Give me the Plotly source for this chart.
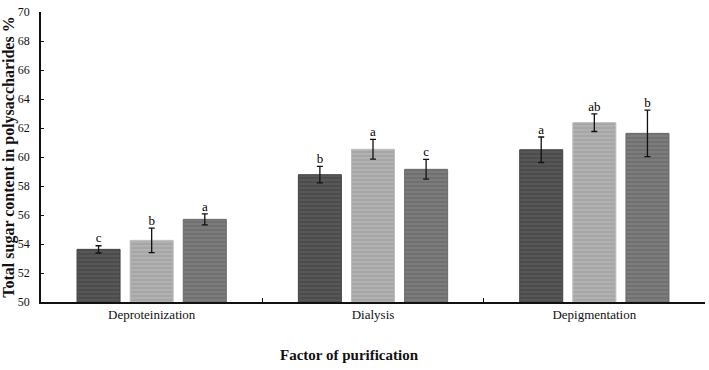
import plotly.graph_objects as go

categories = ["Deproteinization", "Dialysis", "Depigmentation"]
series_names = ["Treatment 1", "Treatment 2", "Treatment 3"]
values_1 = [53.63, 58.78, 60.50]
values_2 = [54.25, 60.53, 62.37]
values_3 = [55.70, 59.15, 61.63]
errors_1 = [0.25, 0.57, 0.88]
errors_2 = [0.85, 0.68, 0.61]
errors_3 = [0.38, 0.68, 1.60]
letters_1 = ["c", "b", "a"]
letters_2 = ["b", "a", "ab"]
letters_3 = ["a", "c", "b"]
y_ticks = [50, 52, 54, 56, 58, 60, 62, 64, 66, 68, 70]

all_values = [values_1, values_2, values_3]
all_errors = [errors_1, errors_2, errors_3]
all_letters = [letters_1, letters_2, letters_3]
fills = ["#575757", "#a6a6a6", "#7c7c7c"]
stripes = ["#4a4a4a", "#b2b2b2", "#6f6f6f"]
borders = ["#444444", "#bdbdbd", "#6a6a6a"]

FONT = "Liberation Serif, Times New Roman, serif"
fig = go.Figure()
for i in range(3):
    fig.add_trace(go.Bar(
        x=categories, y=all_values[i], name=series_names[i],
        offsetgroup=str(i),
        marker=dict(color=fills[i], line=dict(color=borders[i], width=1),
                    pattern=dict(shape="-", fgcolor=stripes[i], bgcolor=fills[i],
                                 size=4, solidity=0.45, fillmode="replace")),
        error_y=dict(type="data", array=all_errors[i], color="#111111",
                     thickness=1.3, width=3),
        showlegend=False,
    ))
for i in range(3):
    fig.add_trace(go.Scatter(
        x=categories, y=[v + e for v, e in zip(all_values[i], all_errors[i])],
        offsetgroup=str(i), mode="text", text=all_letters[i],
        textposition="top center",
        textfont=dict(family=FONT, size=13, color="#000000"),
        showlegend=False, cliponaxis=False,
    ))

fig.update_layout(
    width=709, height=370,
    margin=dict(l=41, r=4, t=12, b=68),
    plot_bgcolor="white", paper_bgcolor="white",
    barmode="group", bargap=0.28, bargroupgap=0.19,
    scattermode="group", scattergap=0.28,
    font=dict(family=FONT, color="#111111"),
    xaxis=dict(type="category", tickson="boundaries", ticks="inside", ticklen=4,
               tickcolor="#111111", showline=True, linecolor="#111111", linewidth=1.5,
               showgrid=False, tickfont=dict(family=FONT, size=13), zeroline=False,
               automargin=False),
    yaxis=dict(range=[50, 70], tickvals=y_ticks, ticks="inside", ticklen=3,
               tickcolor="#111111", showline=True, linecolor="#111111", linewidth=1.5,
               showgrid=False, zeroline=False, ticklabelstandoff=7,
               tickfont=dict(family=FONT, size=12), automargin=False,
               title=dict(text="<b>Total sugar content in polysaccharides %</b>",
                          font=dict(family=FONT, size=16), standoff=6)),
)
fig.add_annotation(text="<b>Factor of purification</b>", xref="paper", yref="paper",
                   x=0.465, y=-0.183, xanchor="center", yanchor="middle",
                   showarrow=False, font=dict(family=FONT, size=15, color="#111111"))
fig.write_html("out.html", config={"displayModeBar": False},
               post_script="document.body.style.margin='0';")
